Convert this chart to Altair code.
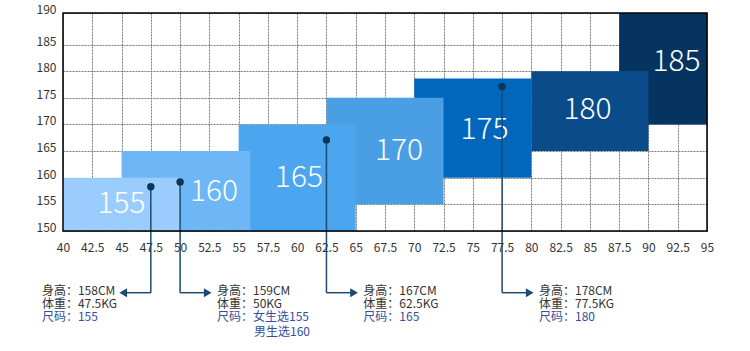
import altair as alt
import pandas as pd

# ---- data ----
sizes = ["155", "160", "165", "170", "175", "180", "185"]
x_start = [40, 45, 55, 62.5, 70, 80, 87.5]
x_end = [50, 56, 65, 72.5, 80, 90, 95]
y_low = [150, 150, 150, 155, 160, 165, 170]
y_high = [160, 165, 170, 175, 178.6, 180, 190]
block_colors = ["#9ACDFE", "#6DB7F6", "#4CA5EF", "#4A9EE3", "#0067BD", "#0A4C8A", "#04345F"]
label_x = [45, 52.9, 60.15, 68.7, 76, 84.8, 92.4]
label_y = [155, 157.3, 160, 165.1, 169, 172.8, 181.7]

dot_x = [47.5, 50, 62.5, 77.5]
dot_y = [158.3, 159.2, 167.1, 177.1]
arrow_dir = [-1, 1, 1, 1]
height_text = ["身高：158CM", "身高：159CM", "身高：167CM", "身高：178CM"]
weight_text = ["体重：47.5KG", "体重：50KG", "体重：62.5KG", "体重：77.5KG"]
size_text = ["尺码：155", "尺码：女生选155", "尺码：165", "尺码：180"]
extra_text = ["", "男生选160", "", ""]

x_ticks = [40 + 2.5 * i for i in range(23)]
y_ticks = [150, 155, 160, 165, 170, 175, 180, 185, 190]

# ---- layout constants (in data units, below the axis) ----
FONT = "Noto Sans CJK SC"
ARROW_Y = 138.42
ROW_Y = [138.8, 136.35, 133.95, 131.1]
ARROW_LEN = 2.8
HEAD_OFF = 0.44
LINE_C = "#1D4A72"
DOT_C = "#0C3558"
GRAY_T = "#333333"
BLUE_T = "#34509A"

blocks = pd.DataFrame({
    "size": sizes, "x": x_start, "x2": x_end, "y": y_low, "y2": y_high,
    "color": block_colors, "lx": label_x, "ly": label_y,
}).iloc[::-1].reset_index(drop=True)

ann = pd.DataFrame({"dx": dot_x, "dy": dot_y, "dir": arrow_dir})
ann["tip"] = ann["dx"] + ann["dir"] * ARROW_LEN
ann["head"] = ann["tip"] - ann["dir"] * HEAD_OFF
ann["shape"] = ["triangle-left" if d < 0 else "triangle-right" for d in arrow_dir]
ann["ay"] = ARROW_Y
ann["tx"] = [t + 0.35 if d > 0 else t - 6.5 for t, d in zip(ann["tip"], arrow_dir)]

rows = []
for i in range(len(dot_x)):
    rows.append({"tx": ann["tx"][i], "ty": ROW_Y[0], "t": height_text[i], "c": GRAY_T})
    rows.append({"tx": ann["tx"][i], "ty": ROW_Y[1], "t": weight_text[i], "c": GRAY_T})
    rows.append({"tx": ann["tx"][i], "ty": ROW_Y[2], "t": size_text[i], "c": BLUE_T})
text_rows = pd.DataFrame(rows)
extra = pd.DataFrame([{"tx": ann["tx"][i], "ty": ROW_Y[3], "t": extra_text[i]}
                      for i in range(len(dot_x)) if extra_text[i]])

xs = alt.Scale(domain=[40, 95], nice=False, zero=False)
ys = alt.Scale(domain=[150, 185, 190], range=[218, 31.5, 0], nice=False, zero=False)

x_axis = alt.Axis(values=x_ticks, format=".1~f", title=None, grid=True, gridDash=[2, 1],
                  gridColor="#7a7a7a", domain=False, ticks=False, labelFontSize=12,
                  labelColor=GRAY_T, labelFont=FONT, labelPadding=11,
                  labelFlush=False, labelOverlap=False)
y_axis = alt.Axis(values=y_ticks, format="d", title=None, grid=True, gridDash=[2, 1],
                  gridColor="#7a7a7a", domain=False, ticks=False, labelFontSize=12,
                  labelColor=GRAY_T, labelFont=FONT, labelPadding=7, labelOffset=-3.5,
                  labelFlush=False, labelOverlap=False)


def X(f):
    return alt.X(f, scale=xs, axis=x_axis)


def Y(f):
    return alt.Y(f, scale=ys, axis=y_axis)


rects = alt.Chart(blocks).mark_rect().encode(
    x=X("x:Q"), x2="x2:Q", y=Y("y:Q"), y2="y2:Q",
    color=alt.Color("color:N", scale=None),
)

big = alt.Chart(blocks).mark_text(color="white", fontSize=30, font=FONT, fontWeight=300,
                                  baseline="middle", align="center").encode(
    x=X("lx:Q"), y=Y("ly:Q"), text="size:N")

vrule = alt.Chart(ann).mark_rule(color=LINE_C, strokeWidth=1.5).encode(
    x=X("dx:Q"), y=Y("dy:Q"), y2="ay:Q")
hrule = alt.Chart(ann).mark_rule(color=LINE_C, strokeWidth=1.5).encode(
    x=X("dx:Q"), x2="head:Q", y=Y("ay:Q"))
heads = alt.Chart(ann).mark_point(filled=True, opacity=1, color=LINE_C, size=80).encode(
    x=X("head:Q"), y=Y("ay:Q"), shape=alt.Shape("shape:N", scale=None))
dots = alt.Chart(ann).mark_circle(color=DOT_C, opacity=1, size=55).encode(
    x=X("dx:Q"), y=Y("dy:Q"))

texts = alt.Chart(text_rows).mark_text(font=FONT, fontSize=12, align="left",
                                       baseline="middle").encode(
    x=X("tx:Q"), y=Y("ty:Q"), text="t:N",
    color=alt.Color("c:N", scale=None))
extra_t = alt.Chart(extra).mark_text(font=FONT, fontSize=12, align="left",
                                     baseline="middle", dx=37, color=BLUE_T).encode(
    x=X("tx:Q"), y=Y("ty:Q"), text="t:N")

# frame drawn on top of the blocks
frame = alt.Chart(pd.DataFrame({"x": [40], "x2": [95], "y": [150], "y2": [190]})).mark_rect(
    fill=None, stroke="black", strokeWidth=1.5).encode(
    x=X("x:Q"), x2="x2:Q", y=Y("y:Q"), y2="y2:Q")

chart = alt.layer(rects, big, vrule, hrule, heads, dots, texts, extra_t, frame).properties(
    width=644, height=218,
    autosize=alt.AutoSizeParams(type="none"),
    padding={"left": 63, "top": 13, "right": 43, "bottom": 120},
).configure_view(stroke=None).configure(background="white")

chart.save("out.html", embed_options={"renderer": "svg", "actions": False})
